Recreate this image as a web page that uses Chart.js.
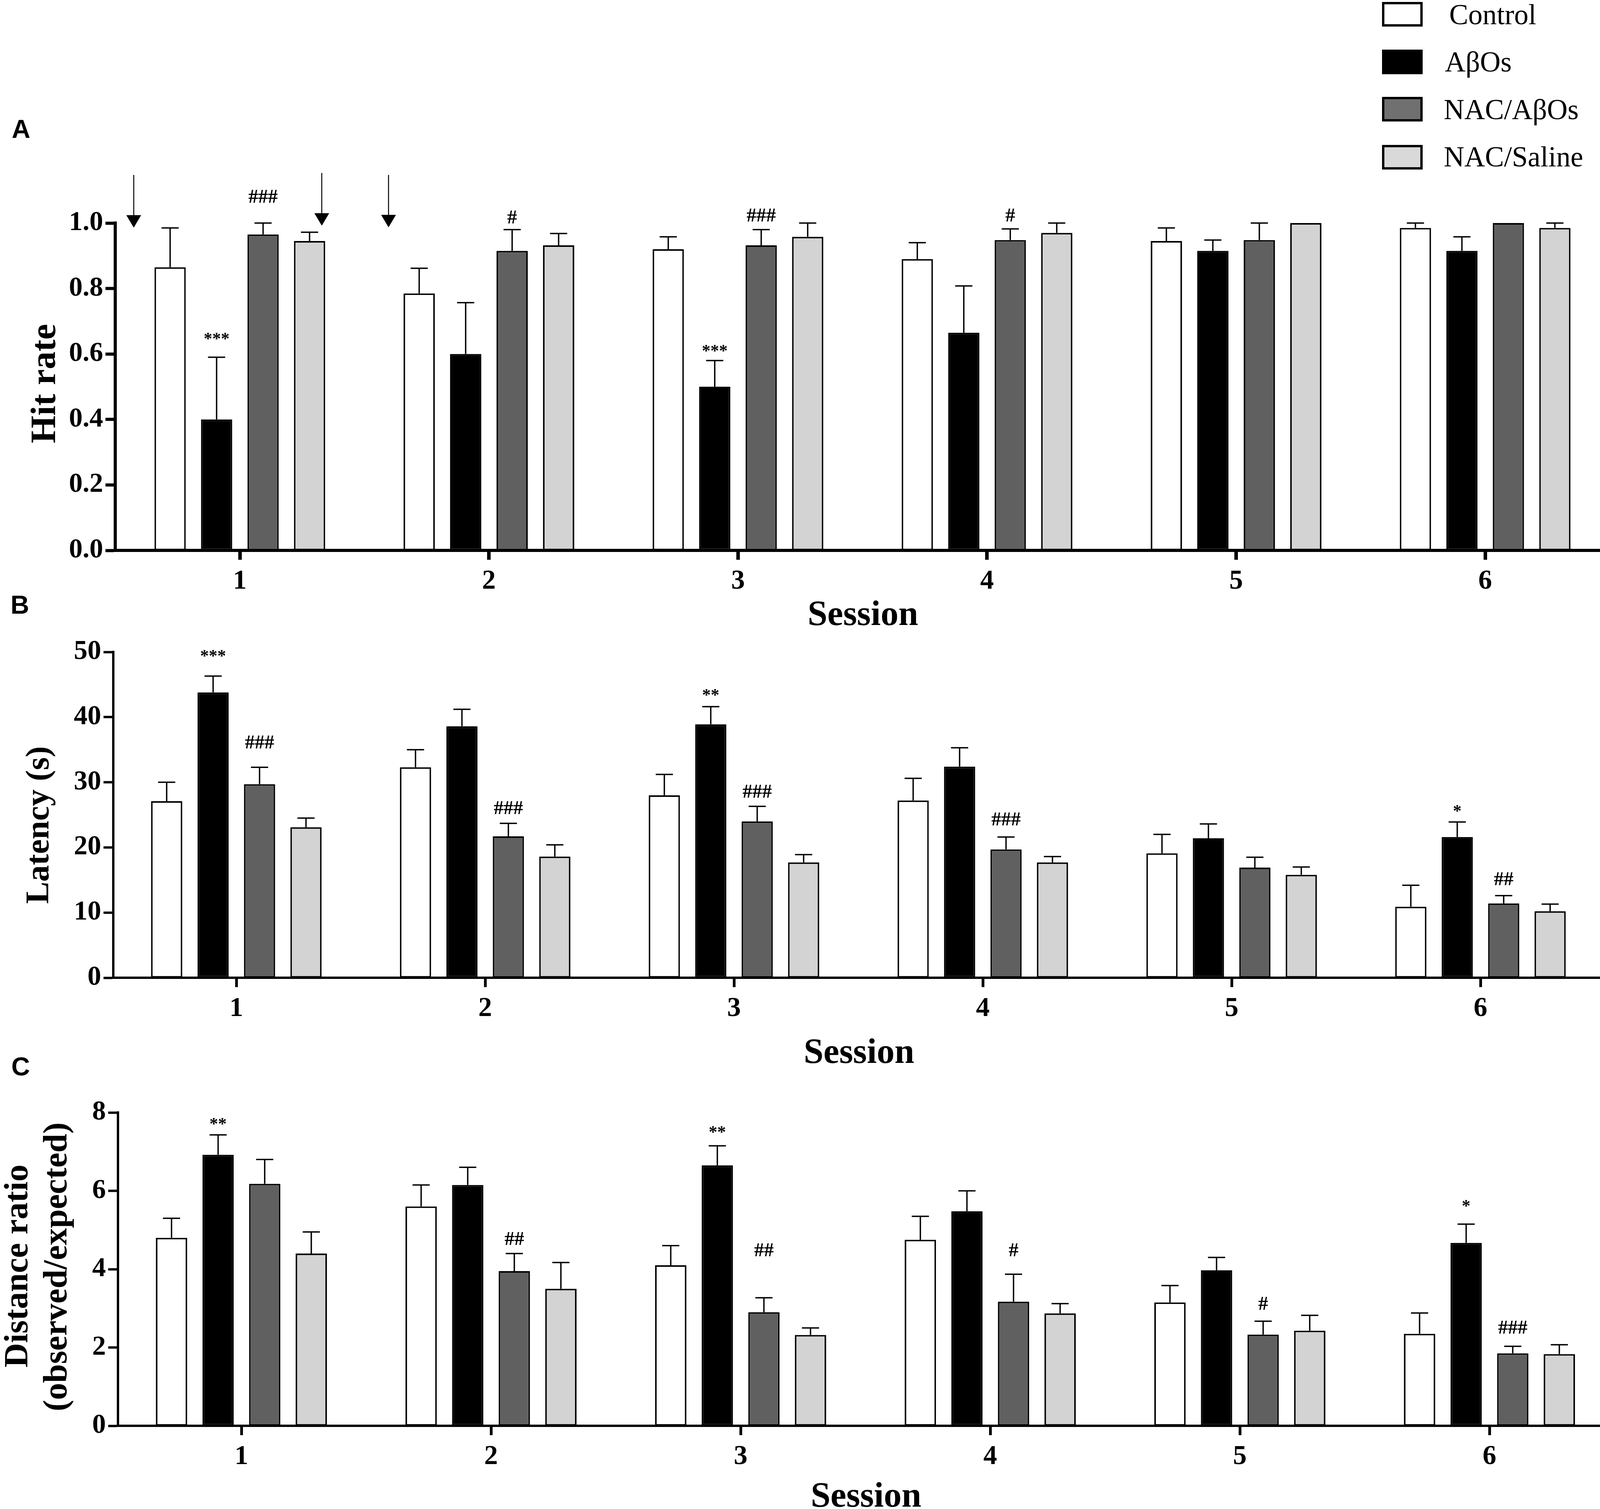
<!DOCTYPE html>
<html><head><meta charset="utf-8">
<style>html,body{margin:0;padding:0;background:#fff;width:4143px;height:3863px;overflow:hidden}canvas{position:absolute;left:0;top:0}</style>
<script src="https://cdn.jsdelivr.net/npm/chart.js@4"></script>
</head><body>
<canvas id="a" width="4143" height="3863"></canvas>
<canvas id="b" width="4143" height="3863"></canvas>
<canvas id="c" width="4143" height="3863"></canvas>
<script>
const sessions=[1,2,3,4,5,6];
const seriesNames=["Control","AβOs","NAC/AβOs","NAC/Saline"];
const seriesColors=["#ffffff","#000000","#606060","#d3d3d3"];
const legendColors=["#ffffff","#000000","#707070","#d9d9d9"];

const hitControl=[.865,.785,.92,.89,.945,.985];
const hitAbo=[.40,.60,.50,.665,.915,.915];
const hitNacAbo=[.965,.915,.932,.948,.948,1.0];
const hitNacSaline=[.945,.932,.958,.97,1.0,.985];
const hitControlTop=[.985,.862,.958,.94,.985,1.0];
const hitAboTop=[.59,.757,.58,.808,.948,.958];
const hitNacAboTop=[1.0,.98,.98,.982,1.0,1.0];
const hitNacSalineTop=[.972,.968,1.0,1.0,1.0,1.0];

const latControl=[27.1,32.3,28,27.2,19.1,10.9];
const latAbo=[43.8,38.6,38.9,32.4,21.4,21.6];
const latNacAbo=[29.7,21.7,24,19.7,16.9,11.4];
const latNacSaline=[23.1,18.6,17.7,17.7,15.8,10.2];
const latControlTop=[30,35,31.2,30.6,22,14.2];
const latAboTop=[46.3,41.2,41.6,35.3,23.6,23.9];
const latNacAboTop=[32.3,23.7,26.3,21.6,18.5,12.6];
const latNacSalineTop=[24.5,20.4,18.9,18.6,17,11.3];

const disControl=[4.8,5.6,4.1,4.75,3.15,2.35];
const disAbo=[6.92,6.15,6.65,5.48,3.97,4.67];
const disNacAbo=[6.18,3.95,2.9,3.17,2.33,1.85];
const disNacSaline=[4.4,3.5,2.32,2.87,2.43,1.83];
const disControlTop=[5.3,6.15,4.6,5.35,3.58,2.88];
const disAboTop=[7.43,6.6,7.15,6,4.3,5.15];
const disNacAboTop=[6.8,4.4,3.27,3.87,2.67,2.03];
const disNacSalineTop=[4.95,4.17,2.5,3.12,2.82,2.07];

// [session, series index, text, y value]
const hitMarks=[[1,1,"***",.655],[1,2,"###",1.082],[2,2,"#",1.019],[3,2,"###",1.025],[3,1,"***",.617],[4,2,"#",1.025]];
const latMarks=[[1,1,"***",49.8],[1,2,"###",36.2],[2,2,"###",26.1],[3,1,"**",43.8],[3,2,"###",28.6],[4,2,"###",24.4],[6,1,"*",26.0],[6,2,"##",15.2]];
const disMarks=[[1,1,"**",7.78],[2,2,"##",4.78],[3,1,"**",7.57],[3,2,"##",4.49],[4,2,"#",4.49],[5,2,"#",3.13],[6,1,"*",5.68],[6,2,"###",2.52]];
// [x value, top y value, tip y value]
const hitArrows=[[.574,1.147,.986],[1.329,1.153,.992],[1.597,1.147,.987]];

const SERIF='"Liberation Serif"';
function buildDatasets(values){
  return values.map((v,i)=>({label:seriesNames[i],data:v.map((y,k)=>({x:sessions[k],y})),
    backgroundColor:seriesColors[i],borderColor:"#000",borderWidth:4,borderSkipped:false,
    barPercentage:.672,categoryPercentage:.7465}));
}
const annotate={id:"annotate",
  afterDatasetsDraw(chart,_,o){
    const ctx=chart.ctx,y=chart.scales.y,x=chart.scales.x;
    ctx.save();ctx.strokeStyle="#000";ctx.fillStyle="#000";
    chart.data.datasets.forEach((d,i)=>{
      const meta=chart.getDatasetMeta(i);
      o.tops[i].forEach((t,k)=>{
        if(t<=d.data[k].y)return;
        const bx=meta.data[k].x,by=y.getPixelForValue(d.data[k].y),ty=y.getPixelForValue(t);
        ctx.lineWidth=o.errWidth;ctx.beginPath();
        ctx.moveTo(bx,by);ctx.lineTo(bx,ty);ctx.moveTo(bx-o.cap/2,ty);ctx.lineTo(bx+o.cap/2,ty);ctx.stroke();
      });
    });
    o.marks.forEach(([s,i,t,v])=>{
      const k=sessions.indexOf(s),bx=chart.getDatasetMeta(i).data[k].x;
      ctx.font=`bold ${t[0]==="#"?o.hashSize:o.starSize}px ${SERIF}`;ctx.textAlign="center";ctx.textBaseline="alphabetic";
      const m=ctx.measureText(t);
      ctx.fillText(t,bx,y.getPixelForValue(v)+(m.actualBoundingBoxAscent-m.actualBoundingBoxDescent)/2);
    });
    (o.arrows||[]).forEach(([ax,t,b])=>{
      const px=x.getPixelForValue(ax),top=y.getPixelForValue(t),tip=y.getPixelForValue(b);
      ctx.lineWidth=2.5;ctx.beginPath();ctx.moveTo(px,top);ctx.lineTo(px,tip-20);ctx.stroke();
      ctx.beginPath();ctx.moveTo(px-19,tip-32);ctx.lineTo(px+19,tip-32);ctx.lineTo(px,tip);ctx.closePath();ctx.fill();
    });
    ctx.textBaseline="alphabetic";
    ctx.font=`bold 66px "Liberation Sans"`;ctx.textAlign="left";ctx.fillText(o.letter[0],o.letter[1],o.letter[2]);
    ctx.font=`bold 91px ${SERIF}`;ctx.textAlign="center";ctx.fillText("Session",o.session[0],o.session[1]);
    o.yTitles.forEach(([text,size,bx,cy])=>{
      ctx.save();ctx.translate(bx,cy);ctx.rotate(-Math.PI/2);ctx.font=`bold ${size}px ${SERIF}`;ctx.textAlign="center";ctx.fillText(text,0,0);ctx.restore();
    });
    if(o.legend){
      const L=o.legend;
      seriesNames.forEach((n,i)=>{
        ctx.fillStyle=legendColors[i];ctx.fillRect(L.x,L.ys[i],L.w,L.h);
        ctx.strokeStyle="#000";ctx.lineWidth=L.lw;ctx.strokeRect(L.x+L.lw/2,L.ys[i]+L.lw/2,L.w-L.lw,L.h-L.lw);
        ctx.fillStyle="#000";ctx.font=`${L.size}px ${SERIF}`;ctx.textAlign="left";ctx.fillText(n,L.tx[i],L.base[i]);
      });
    }
    ctx.restore();
  }};
function panel(id,vals,tops,marks,g,extra){
  const pitch=g.pitch,yW=120,xH=120;
  new Chart(document.getElementById(id),{type:"bar",
    data:{datasets:buildDatasets(vals)},
    plugins:[annotate],
    options:{responsive:false,animation:false,devicePixelRatio:1,
      layout:{padding:{left:g.left-yW,right:4143-g.right,top:g.top,bottom:3863-g.bottom-xH}},
      plugins:{legend:{display:false},tooltip:{enabled:false},
        annotate:Object.assign({tops,marks,errWidth:3.5,cap:44,starSize:44,hashSize:50},extra)},
      scales:{
        x:{type:"linear",offset:false,min:1-(g.tick1-g.left)/pitch,max:1+(g.right-g.tick1)/pitch,
          afterFit(s){s.height=xH},
          afterBuildTicks(s){s.ticks=sessions.map(v=>({value:v}))},
          grid:{offset:false,drawOnChartArea:false,drawTicks:true,tickLength:g.xTick,tickWidth:g.axis+1,tickColor:"#000"},
          border:{color:"#000",width:g.axis},
          ticks:{color:"#000",padding:g.xPad,maxRotation:0,autoSkip:false,font:{family:"Liberation Serif",weight:"bold",size:70},callback:v=>String(v)}},
        y:{min:g.yMin,max:g.yMax,
          afterFit(s){s.width=yW},
          grid:{drawOnChartArea:false,drawTicks:true,tickLength:25,tickWidth:g.axis,tickColor:"#000"},
          border:{color:"#000",width:g.axis},
          ticks:{color:"#000",padding:6,stepSize:g.step,font:{family:"Liberation Serif",weight:"bold",size:70},
            callback:v=>g.dec?v.toFixed(g.dec):String(v)}}
      }}});
}
panel("a",[hitControl,hitAbo,hitNacAbo,hitNacSaline],[hitControlTop,hitAboTop,hitNacAboTop,hitNacSalineTop],hitMarks,
  {left:295,right:4127,top:571,bottom:1409,tick1:614,pitch:637.6,yMin:0,yMax:1,step:.2,dec:1,axis:8,xTick:24,xPad:14},
  {arrows:hitArrows,letter:["A",30,353],session:[2209,1600],yTitles:[["Hit rate",91,141,982]],
   legend:{x:3538,w:104,h:63,lw:6,ys:[5,127,248,371],tx:[3710,3699,3696,3696],base:[62,183,305,426],size:73}});
panel("b",[latControl,latAbo,latNacAbo,latNacSaline],[latControlTop,latAboTop,latNacAboTop,latNacSalineTop],latMarks,
  {left:290,right:4111,top:1669,bottom:2503,tick1:605,pitch:637,yMin:0,yMax:50,step:10,dec:0,axis:6,xTick:24,xPad:14},
  {letter:["B",27,1571],session:[2199,2721],yTitles:[["Latency (s)",85,124,2112]]});
panel("c",[disControl,disAbo,disNacAbo,disNacSaline],[disControlTop,disAboTop,disNacAboTop,disNacSalineTop],disMarks,
  {left:302,right:4138,top:2848,bottom:3650,tick1:618,pitch:639,yMin:0,yMax:8,step:2,dec:0,axis:6,xTick:24,xPad:14},
  {letter:["C",29,2753],session:[2217,3857],yTitles:[["Distance ratio",87,70,3241],["(observed/expected)",87,170,3243]]});
</script>
</body></html>
